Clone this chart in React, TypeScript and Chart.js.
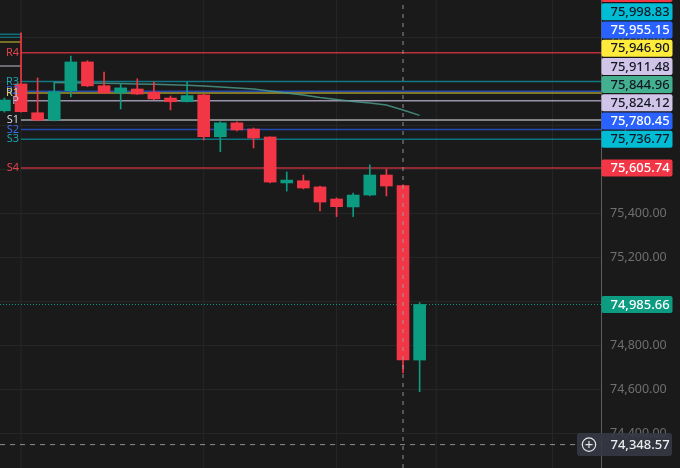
import { useEffect, useRef } from "react";
import { Chart, registerables } from "chart.js";

Chart.register(...registerables);

// ---- data ----
const candleIndex = [0, 1, 2, 3, 4, 5, 6, 7, 8, 9, 10, 11, 12, 13, 14, 15, 16, 17, 18, 19, 20, 21, 22, 23, 24, 25];
const opens = [75866, 75988, 75857, 75824, 75957, 76088, 75980, 75947, 75965, 75951, 75924, 75907, 75938, 75748, 75811, 75783, 75747, 75538, 75548, 75520, 75465, 75429, 75483, 75574, 75526, 74733];
const highs = [75924, 76220, 76015, 75997, 76115, 76094, 76042, 75988, 76011, 75997, 75933, 75998, 75942, 75816, 75816, 75788, 75748, 75588, 75574, 75524, 75470, 75492, 75620, 75601, 75529, 74994];
const lows = [75860, 75860, 75820, 75820, 75929, 75976, 75945, 75874, 75940, 75917, 75870, 75906, 75733, 75680, 75774, 75697, 75538, 75501, 75511, 75411, 75385, 75385, 75479, 75479, 74674, 74589];
const closes = [75915, 75862, 75824, 75953, 76088, 75979, 75947, 75970, 75942, 75920, 75907, 75935, 75748, 75811, 75779, 75742, 75542, 75551, 75515, 75451, 75430, 75483, 75574, 75524, 74733, 74985.66];

const maStart = 3;
const maValues = [75994.5, 75993, 75992, 75991, 75989.5, 75987.7, 75986, 75984.5, 75982, 75978.6, 75974, 75969.5, 75965, 75956, 75947, 75938, 75926, 75917, 75908, 75901, 75892, 75869.5, 75844.96];

const pivotNames = ["R4", "R3", "R2", "R1", "P", "S1", "S2", "S3", "S4"];
const pivotValues = [76129.87, 75998.83, 75955.15, 75946.9, 75911.48, 75824.12, 75780.45, 75736.77, 75605.74];
const pivotStart = 1;
const prevPivotValues = [76213.6, 76200, 76178.6, 76069.5];

const lastPrice = 74985.66;
const crossPrice = 74348.57;
const crossIndex = 24;
const timeGridIndices = [1, 12, 20, 26, 33];

// ---- styles ----
const BG = "#1a1a1a";
const GRID = "#262626";
const UP = "#0c9c82";
const DOWN = "#f23645";
const pivotLineColors = [
  "rgba(242,54,69,0.75)",
  "rgba(0,188,212,0.55)",
  "rgba(41,98,255,0.65)",
  "rgba(255,235,59,0.6)",
  "rgba(209,196,233,0.7)",
  "rgba(209,212,220,0.75)",
  "rgba(41,98,255,0.65)",
  "rgba(0,188,212,0.55)",
  "rgba(242,54,69,0.75)",
];
const pivotTextColors = ["#e0434e", "#1fa3ad", "#3b6cf0", "#d8cf6a", "#c9bfe0", "#d1d4dc", "#3b6cf0", "#1fa3ad", "#e0434e"];
const pivotLabelBg = ["#f23645", "#00bcd4", "#2962ff", "#ffeb3b", "#d1c4e9", "#d1c4e9", "#2962ff", "#00bcd4", "#f23645"];
const pivotLabelFg = ["#ffffff", "#131722", "#ffffff", "#131722", "#131722", "#131722", "#ffffff", "#131722", "#ffffff"];
const prevPivotColors = ["rgba(0,188,212,0.55)", "rgba(0,188,212,0.45)", "rgba(255,235,59,0.55)", "rgba(209,212,220,0.6)"];
const MA_COLOR = "rgba(76,160,142,0.8)";
const MA_LABEL_BG = "#43b08f";
const CROSS = "rgba(165,165,165,0.85)";

const xMin = -0.265;
const xMax = 35.92;
const yMin = 74242.3;
const yMax = 76369.5;

const fmt = (v: number) =>
  v.toLocaleString("en-US", { minimumFractionDigits: 2, maximumFractionDigits: 2 });

export default function App() {
  const ref = useRef<HTMLCanvasElement | null>(null);

  useEffect(() => {
    if (!ref.current) return;
    document.body.style.margin = "0";
    document.body.style.background = BG;

    const candleColors = candleIndex.map((i) => (closes[i] >= opens[i] ? UP : DOWN));

    const datasets: any[] = [];
    // crosshair vertical (on top)
    datasets.push({
      type: "line",
      data: [
        { x: crossIndex, y: yMin },
        { x: crossIndex, y: yMax },
      ],
      borderColor: CROSS,
      borderWidth: 1,
      borderDash: [4, 5],
      pointRadius: 0,
      order: -1,
    });
    // bodies
    datasets.push({
      type: "bar",
      data: candleIndex.map((i) => ({ x: i, y: [opens[i], closes[i]] })),
      backgroundColor: candleColors,
      borderWidth: 0,
      barThickness: 12,
      grouped: false,
      order: 0,
    });
    // wicks
    datasets.push({
      type: "bar",
      data: candleIndex.map((i) => ({ x: i, y: [lows[i], highs[i]] })),
      backgroundColor: candleColors,
      borderWidth: 0,
      barThickness: 1,
      grouped: false,
      order: 1,
    });
    // moving average
    datasets.push({
      type: "line",
      data: maValues.map((v, k) => ({ x: maStart + k, y: v })),
      borderColor: MA_COLOR,
      borderWidth: 1.5,
      pointRadius: 0,
      tension: 0,
      order: 2,
    });
    // pivot levels
    pivotValues.forEach((v, k) => {
      datasets.push({
        type: "line",
        data: [
          { x: pivotStart, y: v },
          { x: xMax, y: v },
        ],
        borderColor: pivotLineColors[k],
        borderWidth: 1.5,
        pointRadius: 0,
        order: 3,
      });
    });
    prevPivotValues.forEach((v, k) => {
      datasets.push({
        type: "line",
        data: [
          { x: xMin, y: v },
          { x: pivotStart, y: v },
        ],
        borderColor: prevPivotColors[k],
        borderWidth: 1.5,
        pointRadius: 0,
        order: 3,
      });
    });
    // last price dotted
    datasets.push({
      type: "line",
      data: [
        { x: xMin, y: lastPrice },
        { x: xMax, y: lastPrice },
      ],
      borderColor: UP,
      borderWidth: 1,
      borderDash: [1, 2],
      pointRadius: 0,
      order: 4,
    });
    // crosshair horizontal
    datasets.push({
      type: "line",
      data: [
        { x: xMin, y: crossPrice },
        { x: xMax, y: crossPrice },
      ],
      borderColor: CROSS,
      borderWidth: 1,
      borderDash: [5, 5],
      pointRadius: 0,
      order: -1,
    });
    // time grid lines
    timeGridIndices.forEach((g) => {
      datasets.push({
        type: "line",
        data: [
          { x: g, y: yMin },
          { x: g, y: yMax },
        ],
        borderColor: GRID,
        borderWidth: 1,
        pointRadius: 0,
        order: 10,
      });
    });

    const bgPlugin = {
      id: "bg",
      beforeDraw(chart: any) {
        const c = chart.ctx;
        c.save();
        c.fillStyle = BG;
        c.fillRect(0, 0, chart.width, chart.height);
        c.restore();
      },
    };

    const roundRect = (c: CanvasRenderingContext2D, x: number, y: number, w: number, h: number, r: number) => {
      c.beginPath();
      c.moveTo(x + r, y);
      c.lineTo(x + w - r, y);
      c.quadraticCurveTo(x + w, y, x + w, y + r);
      c.lineTo(x + w, y + h - r);
      c.quadraticCurveTo(x + w, y + h, x + w - r, y + h);
      c.lineTo(x + r, y + h);
      c.quadraticCurveTo(x, y + h, x, y + h - r);
      c.lineTo(x, y + r);
      c.quadraticCurveTo(x, y, x + r, y);
      c.closePath();
    };

    const labelPlugin = {
      id: "labels",
      afterDraw(chart: any) {
        const c: CanvasRenderingContext2D = chart.ctx;
        const xs = chart.scales.x;
        const ys = chart.scales.y;
        const area = chart.chartArea;
        c.save();
        c.font = "11px 'Noto Sans', sans-serif";
        c.textAlign = "right";
        c.textBaseline = "middle";
        const xl = xs.getPixelForValue(pivotStart) - 2;
        pivotValues.forEach((v, k) => {
          c.fillStyle = pivotTextColors[k];
          c.fillText(pivotNames[k], xl, ys.getPixelForValue(v));
        });

        const items: { v: number; bg: string; fg: string }[] = [];
        pivotValues.forEach((v, k) => items.push({ v, bg: pivotLabelBg[k], fg: pivotLabelFg[k] }));
        items.push({ v: maValues[maValues.length - 1], bg: MA_LABEL_BG, fg: "#131722" });
        items.push({ v: lastPrice, bg: UP, fg: "#ffffff" });
        items.sort((a, b) => a.v - b.v);
        const H = 17;
        const GAP = 18.2;
        let prev = Infinity;
        const lx = area.right + 0.5;
        c.textAlign = "left";
        c.font = "500 13px 'Noto Sans', sans-serif";
        items.forEach((it) => {
          let y = ys.getPixelForValue(it.v);
          y = Math.min(y, prev - GAP);
          prev = y;
          c.fillStyle = it.bg;
          roundRect(c, lx, y - H / 2, 71, H, 2);
          c.fill();
          c.fillStyle = it.fg;
          c.fillText(fmt(it.v), lx + 9, y + 0.5);
        });

        const cy = ys.getPixelForValue(crossPrice);
        c.fillStyle = "rgba(54,58,69,0.9)";
        roundRect(c, 577, cy - 11.5, 95, 23, 3);
        c.fill();
        c.strokeStyle = "#e6e6e6";
        c.lineWidth = 1.2;
        c.beginPath();
        c.arc(589, cy, 6.7, 0, Math.PI * 2);
        c.stroke();
        c.beginPath();
        c.moveTo(585.5, cy);
        c.lineTo(592.5, cy);
        c.moveTo(589, cy - 3.5);
        c.lineTo(589, cy + 3.5);
        c.stroke();
        c.fillStyle = "#ececec";
        c.fillText(fmt(crossPrice), lx + 9, cy + 0.5);
        c.restore();
      },
    };

    const chart = new Chart(ref.current, {
      type: "bar",
      data: { datasets },
      plugins: [bgPlugin, labelPlugin],
      options: {
        animation: false,
        responsive: false,
        maintainAspectRatio: false,
        events: [],
        layout: { padding: 0 },
        plugins: { legend: { display: false }, tooltip: { enabled: false } },
        scales: {
          x: {
            type: "linear",
            min: xMin,
            max: xMax,
            offset: false,
            grid: { display: false, drawTicks: false },
            border: { display: false },
            ticks: { display: false },
            afterFit: (s: any) => {
              s.height = 0;
              s.paddingLeft = 0;
              s.paddingRight = 0;
              s.paddingTop = 0;
              s.paddingBottom = 0;
            },
          },
          y: {
            type: "linear",
            position: "right",
            min: yMin,
            max: yMax,
            grid: { color: GRID, drawTicks: false, tickLength: 0 },
            border: { display: true, color: "#5e5e5e" },
            ticks: {
              stepSize: 200,
              includeBounds: false,
              color: "#6f6f6f",
              padding: 9,
              font: { family: "'Noto Sans', sans-serif", size: 12.5 },
              callback: (v: any) => fmt(Number(v)),
            },
            afterFit: (s: any) => {
              s.width = 79;
              s.paddingTop = 0;
              s.paddingBottom = 0;
              s.paddingLeft = 0;
              s.paddingRight = 0;
            },
          },
        },
      } as any,
    });
    return () => chart.destroy();
  }, []);

  return (
    <div style={{ position: "fixed", left: 0, top: 0, width: 680, height: 468, background: BG }}>
      <canvas ref={ref} width={680} height={468} style={{ width: 680, height: 468, display: "block" }} />
    </div>
  );
}
